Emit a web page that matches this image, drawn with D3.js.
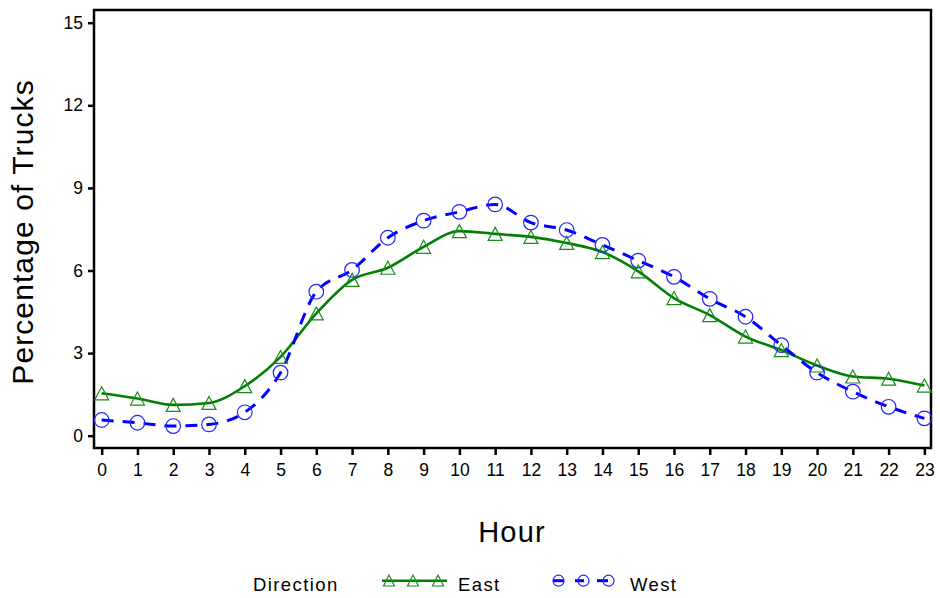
<!DOCTYPE html>
<html><head><meta charset="utf-8">
<script src="https://cdn.jsdelivr.net/npm/d3@7"></script>
<style>body{margin:0;background:#fff}svg{display:block;font-family:Arial,"Liberation Sans",sans-serif}</style>
</head><body><svg id="c" width="940" height="598"></svg>
<script>
const hours = d3.range(0, 24);
const hourLabels = hours.map(String);
const east = [1.54,1.35,1.12,1.19,1.80,2.86,4.44,5.66,6.10,6.86,7.43,7.33,7.22,7.00,6.67,5.97,5.00,4.38,3.60,3.11,2.55,2.15,2.07,1.82];
const west = [0.57,0.47,0.35,0.41,0.85,2.29,5.23,6.02,7.19,7.81,8.13,8.40,7.74,7.47,6.93,6.36,5.77,4.97,4.32,3.29,2.29,1.60,1.05,0.63];
const yTicks = [0,3,6,9,12,15];
const seriesNames = ["East","West"];
const legendTitle = "Direction";

const svg = d3.select("#c");
const x = d3.scaleLinear().domain([-0.215, 23.185]).range([94, 931]);
const y = d3.scaleLinear().domain([0, 15]).range([435.7, 22.7]);

// frame
svg.append("rect").attr("x",94).attr("y",10).attr("width",837).attr("height",438)
  .attr("fill","none").attr("stroke","#000").attr("stroke-width",2.5);

// axes
const yAxis = d3.axisLeft(y).tickValues(yTicks).tickSize(6).tickPadding(5).tickFormat(d3.format("d"));
const gy = svg.append("g").attr("transform","translate(94,0)").call(yAxis);
gy.select(".domain").remove();
gy.selectAll("line").attr("stroke","#000").attr("stroke-width",2.5);
gy.selectAll("text").attr("font-size",17.5).attr("fill","#000").attr("font-family","Arial, 'Liberation Sans', sans-serif");

const xAxis = d3.axisBottom(x).tickValues(hours).tickSize(7).tickPadding(9).tickFormat((d,i)=>hourLabels[i]);
const gx = svg.append("g").attr("transform","translate(0,448)").call(xAxis);
gx.select(".domain").remove();
gx.selectAll("line").attr("stroke","#000").attr("stroke-width",2.5);
gx.selectAll("text").attr("font-size",17.5).attr("fill","#000").attr("font-family","Arial, 'Liberation Sans', sans-serif");

// titles
svg.append("text").attr("transform","translate(33,232) rotate(-90)").attr("text-anchor","middle")
  .attr("font-size",30).attr("letter-spacing",1.1).attr("fill","#000").text("Percentage of Trucks");
svg.append("text").attr("x",512).attr("y",542).attr("text-anchor","middle")
  .attr("font-size",29).attr("letter-spacing",1.2).attr("fill","#000").text("Hour");

// lines
const line = d3.line().x((d,i)=>x(hours[i])).y(d=>y(d)).curve(d3.curveMonotoneX);
svg.append("path").datum(east).attr("d",line).attr("fill","none").attr("stroke","#008000").attr("stroke-width",2.6);
svg.append("path").datum(west).attr("d",line).attr("fill","none").attr("stroke","#0000ff").attr("stroke-width",3).attr("stroke-dasharray","12,9");

// markers
function tri(cx, cy, w, h){ return `M${cx-w/2},${cy+h/2}L${cx+w/2},${cy+h/2}L${cx},${cy-h/2}Z`; }
svg.append("g").selectAll("path").data(east).join("path")
  .attr("d",(d,i)=>tri(x(hours[i]), y(d), 14, 13))
  .attr("fill","none").attr("stroke","#1a8c1a").attr("stroke-width",1.2);
svg.append("g").selectAll("circle").data(west).join("circle")
  .attr("cx",(d,i)=>x(hours[i])).attr("cy",d=>y(d)).attr("r",7.3)
  .attr("fill","none").attr("stroke","#2424ff").attr("stroke-width",1.2);

// legend
const lg = svg.append("g").attr("font-size",18.5).attr("letter-spacing",1.4).attr("fill","#000");
lg.append("text").attr("x",253).attr("y",591).text(legendTitle);
lg.append("line").attr("x1",382).attr("x2",447).attr("y1",580.7).attr("y2",580.7).attr("stroke","#008000").attr("stroke-width",2.6);
[389,413,438].forEach(cx=>{
  lg.append("path").attr("d",tri(cx,580.5,11,11)).attr("fill","none").attr("stroke","#1a8c1a").attr("stroke-width",1.2);
});
lg.append("text").attr("x",458).attr("y",591).text(seriesNames[0]);
[[553,564],[575,584],[597,608]].forEach(s=>{
  lg.append("line").attr("x1",s[0]).attr("x2",s[1]).attr("y1",580.7).attr("y2",580.7).attr("stroke","#0000ff").attr("stroke-width",3);
});
[558.5,583.5,608.5].forEach(cx=>{
  lg.append("circle").attr("cx",cx).attr("cy",580.7).attr("r",5.5).attr("fill","none").attr("stroke","#2424ff").attr("stroke-width",1.2);
});
lg.append("text").attr("x",630).attr("y",591).text(seriesNames[1]);
</script></body></html>
